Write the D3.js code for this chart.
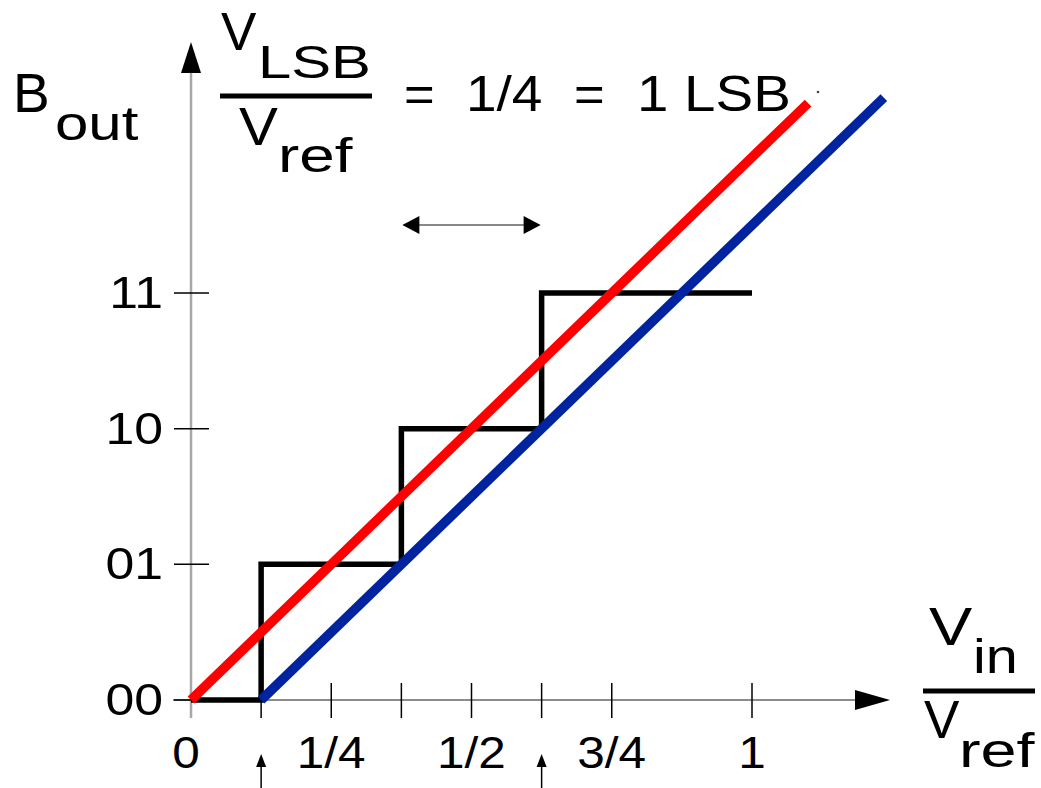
<!DOCTYPE html>
<meta charset="utf-8">
<style>
body { margin: 0; background: #fff; }
text { font-family: "Liberation Sans", Arial, sans-serif; fill: #000; }
.axis { stroke: #a8a8a8; stroke-width: 2.5px; }
.axis.h { stroke: #8c8c8c; stroke-width: 2px; }
.tick { stroke: #000; stroke-width: 1.5px; }
.stairs { fill: none; stroke: #000; stroke-width: 5.5px; }
.ideal { fill: none; stroke: #ff0000; stroke-width: 9.5px; }
.shifted { fill: none; stroke: #0024a0; stroke-width: 9.5px; }
.bar { stroke: #000; stroke-width: 5px; }
</style>
<svg width="1041" height="788"></svg>
<script src="https://d3js.org/d3.v7.min.js"></script>
<script>
// input levels where the code steps up, and the code held after each one
var stairVin = [0, 1/8, 3/8, 5/8, 1];
var stairCode = [0, 1, 2, 3, 3];

// straight transfer lines: ideal (red) and offset by half an LSB (blue)
var idealVin = [0, 1.10];
var idealCode = [0, 4.40];
var shiftedVin = [0.125, 1.235];
var shiftedCode = [0, 4.44];

var xTicks = [1/8, 2/8, 3/8, 4/8, 5/8, 6/8, 1];
var xLabelValues = [0, 0.25, 0.5, 0.75, 1];
var xLabelTexts = ["0", "1/4", "1/2", "3/4", "1"];

var codes = [0, 1, 2, 3];
var codeLabels = ["00", "01", "10", "11"];

var markerVin = [1/8, 5/8];
var lsbSpan = [3/8, 5/8];

var svg = d3.select("svg");

var x = d3.scaleLinear().domain([0, 1]).range([191, 752]);
var y = d3.scaleLinear().domain([0, 3]).range([700, 293]);

function label(str, px, py, size, sx, anchor) {
  return svg.append("text")
    .attr("transform", "translate(" + px + "," + py + ") scale(" + sx + ",1)")
    .attr("text-anchor", anchor || "start")
    .attr("font-size", size)
    .text(str);
}

function arrowHead(tip, dir, len, half) {
  // dir: unit vector the arrow points to
  var bx = tip[0] - dir[0] * len, by = tip[1] - dir[1] * len;
  var nx = -dir[1] * half, ny = dir[0] * half;
  return "M" + tip[0] + "," + tip[1] + "L" + (bx + nx) + "," + (by + ny) + "L" + (bx - nx) + "," + (by - ny) + "Z";
}

// axes
svg.append("line").attr("class", "axis")
  .attr("x1", x(0)).attr("y1", 718).attr("x2", x(0)).attr("y2", 70);
svg.append("path").attr("d", arrowHead([x(0), 42], [0, -1], 31, 10));
svg.append("line").attr("class", "axis h")
  .attr("x1", 173).attr("y1", y(0)).attr("x2", 860).attr("y2", y(0));
svg.append("path").attr("d", arrowHead([890, y(0)], [1, 0], 35, 10));

// ticks
svg.selectAll(".xt").data(xTicks).enter().append("line")
  .attr("class", "tick")
  .attr("x1", d => x(d)).attr("x2", d => x(d))
  .attr("y1", 683).attr("y2", 718);
svg.selectAll(".yt").data(codes).enter().append("line")
  .attr("class", "tick")
  .attr("x1", 174).attr("x2", d => d === 0 ? x(0) : 209)
  .attr("y1", d => y(d)).attr("y2", d => y(d));

xLabelValues.forEach(function(v, i) {
  label(xLabelTexts[i], x(v) - (v === 0 ? 5 : 0), 768, 45, 1.1, "middle");
});
codes.forEach(function(c, i) {
  label(codeLabels[i], 163, y(c) + 15, 45, 1.15, "end");
});

// staircase
var stairs = d3.line()
  .x((d, i) => x(stairVin[i]))
  .y((d, i) => y(stairCode[i]))
  .curve(d3.curveStepAfter);
svg.append("path").attr("class", "stairs").attr("d", stairs(stairVin));

var straight = function(vs, cs) {
  return d3.line().x((d, i) => x(vs[i])).y((d, i) => y(cs[i]))(vs);
};
svg.append("path").attr("class", "ideal").attr("d", straight(idealVin, idealCode));
svg.append("path").attr("class", "shifted").attr("d", straight(shiftedVin, shiftedCode));

// little up arrows under the axis
markerVin.forEach(function(v) {
  svg.append("line").attr("stroke", "#000").attr("stroke-width", 1.5)
    .attr("x1", x(v)).attr("x2", x(v)).attr("y1", 762).attr("y2", 788);
  svg.append("path").attr("d", arrowHead([x(v), 754], [0, -1], 13, 5));
});

// one LSB width arrow
svg.append("line").attr("stroke", "#888").attr("stroke-width", 2)
  .attr("x1", x(lsbSpan[0]) + 10).attr("x2", x(lsbSpan[1]) - 10)
  .attr("y1", 225).attr("y2", 225);
svg.append("path").attr("d", arrowHead([x(lsbSpan[0]) + 1, 225], [-1, 0], 17, 9));
svg.append("path").attr("d", arrowHead([x(lsbSpan[1]) - 1, 225], [1, 0], 17, 9));

// y title
label("B", 13, 112, 55, 1.0);
label("out", 55, 140, 48, 1.25);

// VLSB / Vref = 1/4 = 1 LSB
label("V", 221, 50, 53, 1.0);
label("LSB", 258, 78, 46, 1.3);
svg.append("line").attr("class", "bar").attr("x1", 220).attr("x2", 372).attr("y1", 96).attr("y2", 96);
label("V", 239, 145, 53, 1.1);
label("ref", 278, 172, 48, 1.33);
label("=", 404, 111, 50, 1.05);
label("1/4", 466, 111, 50, 1.1);
label("=", 574, 111, 50, 1.05);
label("1 LSB", 637, 111, 50, 1.13);
svg.append("circle").attr("cx", 818).attr("cy", 92).attr("r", 1.3).attr("fill", "#444");

// x title
label("V", 929, 645, 54, 1.2);
label("in", 973, 673, 48, 1.2);
svg.append("line").attr("class", "bar").attr("x1", 923).attr("x2", 1035).attr("y1", 691).attr("y2", 691);
label("V", 924, 738, 53, 1.0);
label("ref", 959, 767, 48, 1.35);
</script>
